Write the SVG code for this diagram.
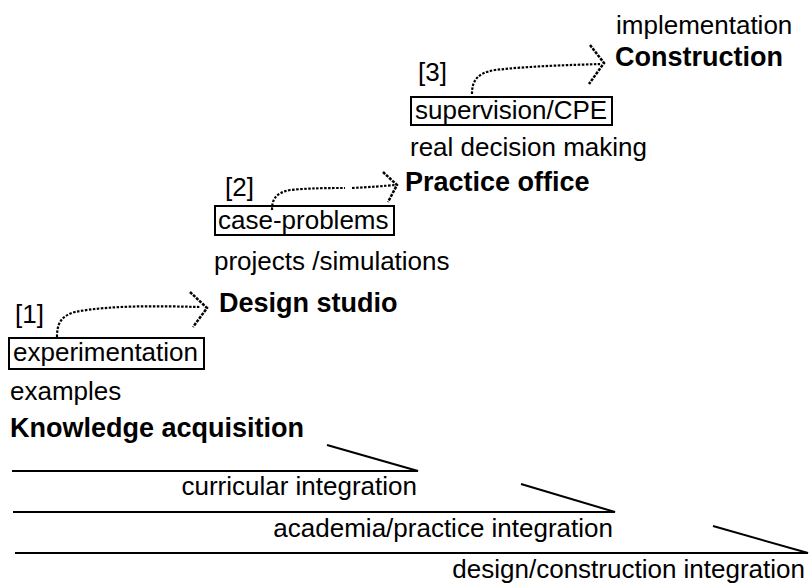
<svg xmlns="http://www.w3.org/2000/svg" width="811" height="585" viewBox="0 0 811 585">
<style>
text{font-family:"Liberation Sans",Arial,sans-serif;font-size:26px;fill:#000}
.b{font-weight:bold;font-size:27px}
.e{text-anchor:end}
.box{fill:none;stroke:#000;stroke-width:2}
.dot{fill:none;stroke:#000;stroke-width:2.2;stroke-dasharray:2.5 1.5}
.head{fill:none;stroke:#000;stroke-width:2.5;stroke-dasharray:3 1.2}
.ln{fill:none;stroke:#000;stroke-width:2}
</style>
<rect width="811" height="585" fill="#fff"/>
<g id="stage3">
<text x="616" y="34">implementation</text>
<text class="b" x="615" y="66">Construction</text>
<text x="418" y="81">[3]</text>
<rect class="box" x="411" y="97" width="201" height="28"/>
<text x="415" y="119">supervision/CPE</text>
<text x="410" y="156">real decision making</text>
</g>
<g id="stage2">
<text x="225" y="196">[2]</text>
<text class="b" x="405" y="191">Practice office</text>
<rect class="box" x="215" y="206" width="179" height="29"/>
<text x="218" y="229">case-problems</text>
<text x="214" y="270">projects /simulations</text>
</g>
<g id="stage1">
<text x="15" y="323">[1]</text>
<text class="b" x="219" y="312">Design studio</text>
<rect class="box" x="9" y="338" width="195" height="31"/>
<text x="13" y="361">experimentation</text>
<text x="10" y="400">examples</text>
<text class="b" x="10" y="437">Knowledge acquisition</text>
</g>
<g id="integration">
<text class="e" x="417" y="495">curricular integration</text>
<text class="e" x="613" y="537">academia/practice integration</text>
<text class="e" x="805" y="578">design/construction integration</text>
</g>
<g id="connectors">
<path class="dot" d="M57,337 C57,325 60,316 75,312 C110,305 160,306 200,307"/>
<path class="head" d="M190,292 L207,308 L193,327"/>
<path class="dot" d="M272,210 C272,200 275,193 290,190 C310,188 330,188 345,188"/>
<path class="dot" d="M352,188 C370,187 385,186 395,185"/>
<path class="head" d="M383,172 L397,185 L388,202"/>
<path class="dot" d="M472,94 C472,82 476,73 495,70 C530,66 570,65 601,64"/>
<path class="head" d="M590,45 L604,63 L589,84"/>
<path class="ln" d="M12,471 L418,471 L327,445"/>
<path class="ln" d="M13,512 L615,512 L521,484"/>
<path class="ln" d="M15,553 L808,553 L713,526"/>
</g>
</svg>
